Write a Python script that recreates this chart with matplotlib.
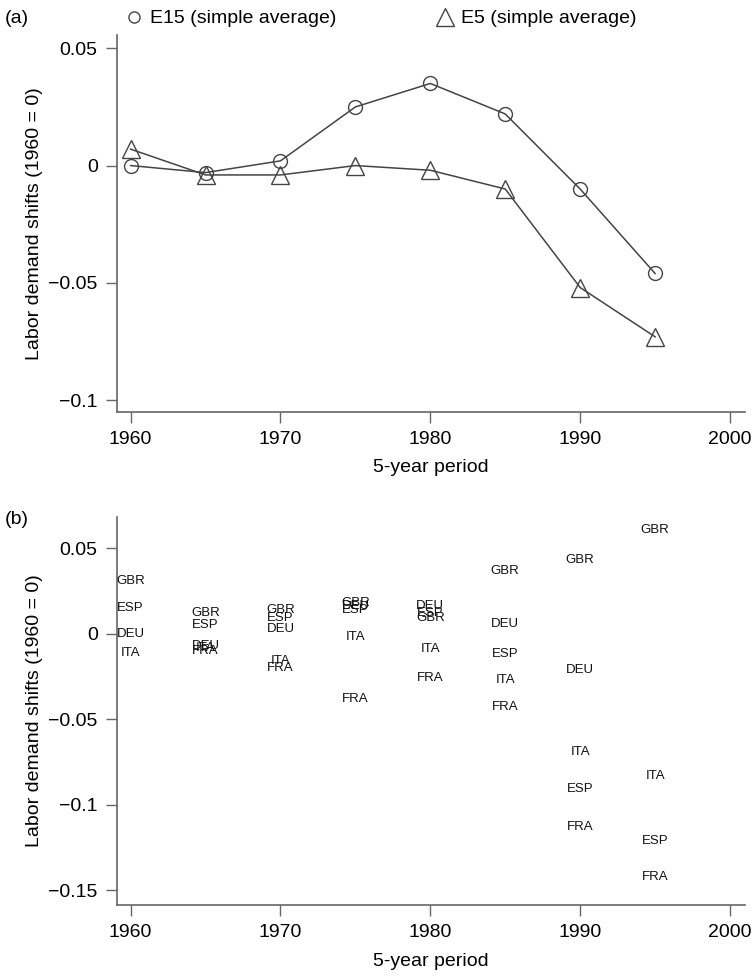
import matplotlib
matplotlib.use('Agg')
import matplotlib.pyplot as plt
from matplotlib.lines import Line2D

plt.rcParams['font.family'] = ['Liberation Sans', 'DejaVu Sans']

# (a) simple averages
years = [1960, 1965, 1970, 1975, 1980, 1985, 1990, 1995]
e15 = [0.0, -0.003, 0.002, 0.025, 0.035, 0.022, -0.010, -0.046]
e5 = [0.007, -0.004, -0.004, 0.0, -0.002, -0.010, -0.052, -0.073]

# (b) country shifts
countries = ['GBR', 'ESP', 'DEU', 'ITA', 'FRA']
gbr = [0.031, 0.012, 0.014, 0.018, 0.009, 0.037, 0.043, 0.061]
esp = [0.015, 0.005, 0.009, 0.014, 0.012, -0.012, -0.091, -0.121]
deu = [0.000, -0.007, 0.003, 0.016, 0.016, 0.006, -0.021, None]
ita = [-0.011, -0.008, -0.016, -0.002, -0.009, -0.027, -0.069, -0.083]
fra = [None, -0.010, -0.020, -0.038, -0.026, -0.043, -0.113, -0.142]
series_b = dict(zip(countries, [gbr, esp, deu, ita, fra]))

LINE = '#444444'
SPINE = '#666666'
FS = 14

fig = plt.figure(figsize=(7.51, 9.76), dpi=100)
ax1 = fig.add_axes([0.156, 0.578, 0.836, 0.386])
ax2 = fig.add_axes([0.156, 0.0727, 0.836, 0.398])


def style(ax):
    for s in ['top', 'right']:
        ax.spines[s].set_visible(False)
    for s in ['left', 'bottom']:
        ax.spines[s].set_color(SPINE)
        ax.spines[s].set_linewidth(1.2)
    ax.tick_params(axis='both', length=8, width=1, color=SPINE, labelsize=FS, pad=6)
    ax.set_xlim(1959.1, 2001)
    ax.set_xticks([1960, 1970, 1980, 1990, 2000])
    ax.set_xlabel('5-year period', fontsize=FS, labelpad=8)
    ax.set_ylabel('Labor demand shifts (1960 = 0)', fontsize=FS, labelpad=4)


# (a)
ax1.plot(years, e15, '-', color=LINE, lw=1.1, marker='o', ms=10,
         mfc='none', mec=LINE, mew=1.0)
ax1.plot(years, e5, '-', color=LINE, lw=1.1, marker='^', ms=13,
         mfc='none', mec=LINE, mew=1.0)
style(ax1)
ax1.set_ylim(-0.105, 0.0556)
ax1.set_yticks([0.05, 0, -0.05, -0.1])
ax1.set_yticklabels(['0.05', '0', '\u22120.05', '\u22120.1'])

h1 = Line2D([], [], ls='none', marker='o', ms=8, mfc='none', mec=LINE)
h2 = Line2D([], [], ls='none', marker='^', ms=13, mfc='none', mec=LINE)
fig.legend([h1, h2], ['E15 (simple average)', 'E5 (simple average)'],
           loc='center left', bbox_to_anchor=(0.145, 0.981), ncol=2,
           frameon=False, fontsize=FS, handlelength=0.8, handletextpad=0.4,
           columnspacing=5.2)
fig.text(0.006, 0.981, '(a)', fontsize=FS, va='center')

# (b)
for name, vals in series_b.items():
    for yr, v in zip(years, vals):
        if v is None:
            continue
        ax2.text(yr, v, name, ha='center', va='center', fontsize=9.5,
                 color='#111111')
style(ax2)
ax2.set_ylim(-0.1587, 0.0686)
ax2.set_yticks([0.05, 0, -0.05, -0.1, -0.15])
ax2.set_yticklabels(['0.05', '0', '\u22120.05', '\u22120.1', '\u22120.15'])
fig.text(0.006, 0.468, '(b)', fontsize=FS, va='center')

fig.savefig('out.png', dpi=100)
